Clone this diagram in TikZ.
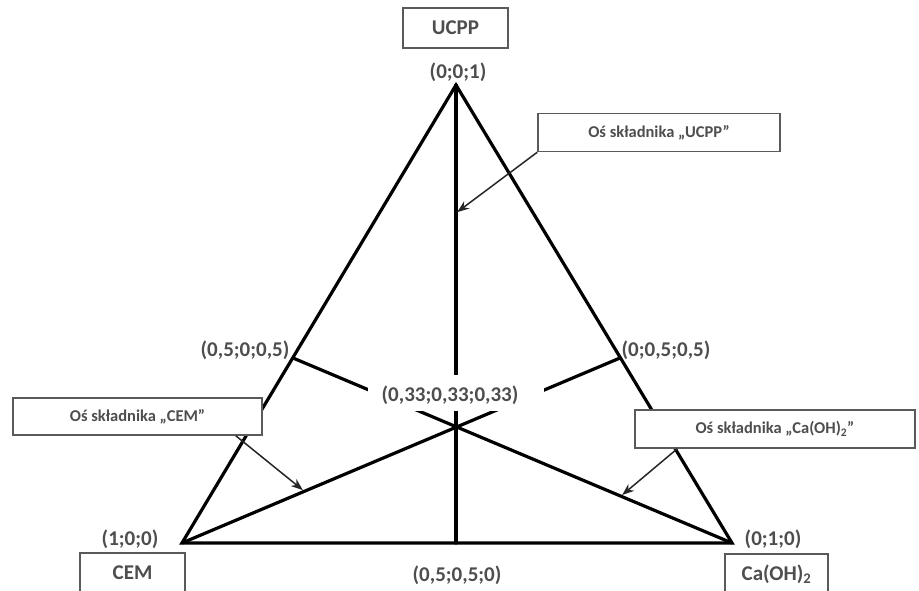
\documentclass[tikz,border=0pt]{standalone}
\usepackage{fontspec}
\setmainfont{Carlito}
\usetikzlibrary{arrows.meta}

\definecolor{lblgray}{HTML}{4E4E4E}
\definecolor{boxgray}{HTML}{5A5A5A}

\begin{document}
\begin{tikzpicture}[x=1pt, y=-1pt,
    axis/.style={line width=3.2pt, black, line cap=round, line join=miter},
    coord/.style={text=lblgray, font=\fontsize{21}{24}\selectfont\bfseries, inner sep=1pt},
    namebox/.style={draw=boxgray, line width=1.5pt, fill=white, text=lblgray,
        font=\fontsize{21}{24}\selectfont\bfseries, minimum width=105pt, minimum height=40pt},
    callout/.style={draw=boxgray, line width=1.5pt, fill=white, text=lblgray,
        font=\fontsize{16.5}{19}\selectfont\bfseries, minimum height=38pt},
    pointer/.style={draw=black!85, line width=1.5pt, -{Stealth[length=12pt, width=9pt]}}
]
    \useasboundingbox (0,0) rectangle (919,591);

    % vertices of the triangle
    \coordinate (cem) at (182,543);
    \coordinate (cah) at (732,543);
    \coordinate (ucp) at (456,85);
    \coordinate (ctr) at (456,427);
    % axis ends on the opposite sides
    \coordinate (mid) at (456,543);
    \coordinate (lmid) at (293,358);
    \coordinate (rmid) at (620,358);

    \draw[axis] (cem) -- (cah) -- (ucp) -- cycle;
    \draw[axis] (ucp) -- (mid);
    \draw[axis] (cem) -- (rmid);
    \draw[axis] (cah) -- (lmid);

    % centre label (cuts the axes)
    \node[fill=white, minimum width=176pt, minimum height=36pt] (Cbg) at (456,393) {};
    \node[coord] (C) at (450,395) {(0,33;0,33;0,33)};

    % corner labels
    \node[coord] (P1) at (458,72) {(0;0;1)};
    \node[coord] (P2) at (130,539) {(1;0;0)};
    \node[coord] (P3) at (773,539) {(0;1;0)};
    \node[coord] (P4) at (457,575) {(0,5;0,5;0)};
    \node[coord] (P5) at (245,350) {(0,5;0;0,5)};
    \node[coord] (P6) at (666,350) {(0;0,5;0,5)};

    % component names
    \node[namebox] (UCPP) at (455.5,28) {UCPP};
    \node[namebox] (CEM) at (132.5,573) {CEM};
    \node[namebox, minimum width=103pt] (CAH) at (776.5,574) {Ca(OH)\textsubscript{2}};

    % callouts
    \node[callout, minimum width=242pt] (UN) at (659,132.5) {Oś składnika „UCPP”};
    \node[callout, minimum width=249pt, minimum height=37pt] (CN) at (137.5,416.5) {Oś składnika „CEM”};
    \node[callout, minimum width=280pt] (AN) at (775,429) {Oś składnika „Ca(OH)\textsubscript{2}”};

    \coordinate (uaxis) at (456,213);
    \coordinate (caxis) at (304,491);
    \coordinate (aaxis) at (621,496);

    \draw[pointer, shorten >=1.5pt] (UN.south west) -- (uaxis);
    \draw[pointer, shorten >=1.5pt] ([xshift=-27pt]CN.south east) -- (caxis);
    \draw[pointer, shorten >=1.5pt] ([xshift=43pt]AN.south west) -- (aaxis);
\end{tikzpicture}
\end{document}
